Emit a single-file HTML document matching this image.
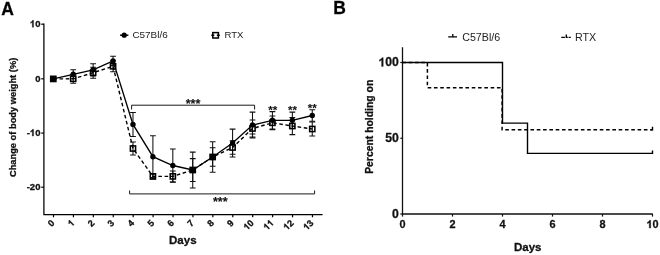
<!DOCTYPE html>
<html><head><meta charset="utf-8"><title>Figure</title>
<style>
html,body{margin:0;padding:0;background:#fff;}
body{width:660px;height:255px;overflow:hidden;font-family:"Liberation Sans",sans-serif;}
svg{display:block;font-family:"Liberation Sans",sans-serif;}
text[font-weight="bold"]{stroke:#111;stroke-width:0.3px;stroke-linejoin:round;}
</style></head><body>
<svg width="660" height="255" viewBox="0 0 660 255">
<defs><filter id="soft" x="0" y="0" width="660" height="255" filterUnits="userSpaceOnUse" color-interpolation-filters="sRGB"><feGaussianBlur stdDeviation="0.3"/></filter></defs>
<rect width="660" height="255" fill="#fff"/>
<g filter="url(#soft)">
<g id="panelA">
<path d="M43.9 23.6V214.5H322.6" fill="none" stroke="#000" stroke-width="1.25"/>
<path d="M41.2 24.2H43.9" stroke="#000" stroke-width="1.2"/>
<path d="M41.2 78.8H43.9" stroke="#000" stroke-width="1.2"/>
<path d="M41.2 133.1H43.9" stroke="#000" stroke-width="1.2"/>
<path d="M41.2 187.2H43.9" stroke="#000" stroke-width="1.2"/>
<path d="M53.50 214.5V217.3" stroke="#000" stroke-width="1.2"/>
<path d="M73.42 214.5V217.3" stroke="#000" stroke-width="1.2"/>
<path d="M93.34 214.5V217.3" stroke="#000" stroke-width="1.2"/>
<path d="M113.26 214.5V217.3" stroke="#000" stroke-width="1.2"/>
<path d="M133.18 214.5V217.3" stroke="#000" stroke-width="1.2"/>
<path d="M153.10 214.5V217.3" stroke="#000" stroke-width="1.2"/>
<path d="M173.02 214.5V217.3" stroke="#000" stroke-width="1.2"/>
<path d="M192.94 214.5V217.3" stroke="#000" stroke-width="1.2"/>
<path d="M212.86 214.5V217.3" stroke="#000" stroke-width="1.2"/>
<path d="M232.78 214.5V217.3" stroke="#000" stroke-width="1.2"/>
<path d="M252.70 214.5V217.3" stroke="#000" stroke-width="1.2"/>
<path d="M272.62 214.5V217.3" stroke="#000" stroke-width="1.2"/>
<path d="M292.54 214.5V217.3" stroke="#000" stroke-width="1.2"/>
<path d="M312.46 214.5V217.3" stroke="#000" stroke-width="1.2"/>
<path d="M73.22 69.80V78.80M70.32 69.80H76.12M70.32 78.80H76.12" fill="none" stroke="#111" stroke-width="1.05"/>
<path d="M73.22 74.40V83.20M70.32 74.40H76.12M70.32 83.20H76.12" fill="none" stroke="#111" stroke-width="1.05"/>
<path d="M93.14 63.70V75.90M90.24 63.70H96.04M90.24 75.90H96.04" fill="none" stroke="#111" stroke-width="1.05"/>
<path d="M93.14 67.20V78.20M90.24 67.20H96.04M90.24 78.20H96.04" fill="none" stroke="#111" stroke-width="1.05"/>
<path d="M113.06 56.20V65.60M110.16 56.20H115.96M110.16 65.60H115.96" fill="none" stroke="#111" stroke-width="1.05"/>
<path d="M113.06 60.80V71.80M110.16 60.80H115.96M110.16 71.80H115.96" fill="none" stroke="#111" stroke-width="1.05"/>
<path d="M132.98 112.40V136.40M130.08 112.40H135.88M130.08 136.40H135.88" fill="none" stroke="#111" stroke-width="1.05"/>
<path d="M132.98 142.00V155.00M130.08 142.00H135.88M130.08 155.00H135.88" fill="none" stroke="#111" stroke-width="1.05"/>
<path d="M152.90 135.80V177.60M150.00 135.80H155.80M150.00 177.60H155.80" fill="none" stroke="#111" stroke-width="1.05"/>
<path d="M152.90 173.90V178.90M150.00 173.90H155.80M150.00 178.90H155.80" fill="none" stroke="#111" stroke-width="1.05"/>
<path d="M172.82 148.90V182.10M169.92 148.90H175.72M169.92 182.10H175.72" fill="none" stroke="#111" stroke-width="1.05"/>
<path d="M172.82 170.90V181.90M169.92 170.90H175.72M169.92 181.90H175.72" fill="none" stroke="#111" stroke-width="1.05"/>
<path d="M192.74 152.10V187.90M189.84 152.10H195.64M189.84 187.90H195.64" fill="none" stroke="#111" stroke-width="1.05"/>
<path d="M192.74 158.60V181.40M189.84 158.60H195.64M189.84 181.40H195.64" fill="none" stroke="#111" stroke-width="1.05"/>
<path d="M212.66 141.80V172.20M209.76 141.80H215.56M209.76 172.20H215.56" fill="none" stroke="#111" stroke-width="1.05"/>
<path d="M212.66 147.80V166.20M209.76 147.80H215.56M209.76 166.20H215.56" fill="none" stroke="#111" stroke-width="1.05"/>
<path d="M232.58 129.10V156.90M229.68 129.10H235.48M229.68 156.90H235.48" fill="none" stroke="#111" stroke-width="1.05"/>
<path d="M232.58 140.80V154.20M229.68 140.80H235.48M229.68 154.20H235.48" fill="none" stroke="#111" stroke-width="1.05"/>
<path d="M252.50 112.10V137.90M249.60 112.10H255.40M249.60 137.90H255.40" fill="none" stroke="#111" stroke-width="1.05"/>
<path d="M252.50 119.90V137.10M249.60 119.90H255.40M249.60 137.10H255.40" fill="none" stroke="#111" stroke-width="1.05"/>
<path d="M272.42 111.60V129.00M269.52 111.60H275.32M269.52 129.00H275.32" fill="none" stroke="#111" stroke-width="1.05"/>
<path d="M272.42 116.00V129.60M269.52 116.00H275.32M269.52 129.60H275.32" fill="none" stroke="#111" stroke-width="1.05"/>
<path d="M292.34 112.10V128.50M289.44 112.10H295.24M289.44 128.50H295.24" fill="none" stroke="#111" stroke-width="1.05"/>
<path d="M292.34 117.40V134.60M289.44 117.40H295.24M289.44 134.60H295.24" fill="none" stroke="#111" stroke-width="1.05"/>
<path d="M312.26 109.70V121.30M309.36 109.70H315.16M309.36 121.30H315.16" fill="none" stroke="#111" stroke-width="1.05"/>
<path d="M312.26 122.00V136.00M309.36 122.00H315.16M309.36 136.00H315.16" fill="none" stroke="#111" stroke-width="1.05"/>
<path d="M249.60 134H255.40" stroke="#111" stroke-width="1.05"/>
<polyline points="53.30,78.90 73.22,78.80 93.14,72.70 113.06,66.30 132.98,148.50 152.90,176.40 172.82,176.40 192.74,170.00 212.66,157.00 232.58,147.50 252.50,128.50 272.42,122.80 292.34,126.00 312.26,129.00" fill="none" stroke="#000" stroke-width="1.4" stroke-dasharray="3.6 2.6"/>
<polyline points="53.30,78.90 73.22,74.30 93.14,69.80 113.06,60.90 132.98,124.40 152.90,156.70 172.82,165.50 192.74,170.00 212.66,157.00 232.58,143.00 252.50,125.00 272.42,120.30 292.34,120.30 312.26,115.50" fill="none" stroke="#000" stroke-width="1.35"/>
<rect x="50.70" y="76.30" width="5.2" height="5.2" fill="none" stroke="#000" stroke-width="1.55"/>
<rect x="70.62" y="76.20" width="5.2" height="5.2" fill="none" stroke="#000" stroke-width="1.55"/>
<rect x="90.54" y="70.10" width="5.2" height="5.2" fill="none" stroke="#000" stroke-width="1.55"/>
<rect x="110.46" y="63.70" width="5.2" height="5.2" fill="none" stroke="#000" stroke-width="1.55"/>
<rect x="130.38" y="145.90" width="5.2" height="5.2" fill="none" stroke="#000" stroke-width="1.55"/>
<rect x="150.30" y="173.80" width="5.2" height="5.2" fill="none" stroke="#000" stroke-width="1.55"/>
<rect x="170.22" y="173.80" width="5.2" height="5.2" fill="none" stroke="#000" stroke-width="1.55"/>
<rect x="190.14" y="167.40" width="5.2" height="5.2" fill="none" stroke="#000" stroke-width="1.55"/>
<rect x="210.06" y="154.40" width="5.2" height="5.2" fill="none" stroke="#000" stroke-width="1.55"/>
<rect x="229.98" y="144.90" width="5.2" height="5.2" fill="none" stroke="#000" stroke-width="1.55"/>
<rect x="249.90" y="125.90" width="5.2" height="5.2" fill="none" stroke="#000" stroke-width="1.55"/>
<rect x="269.82" y="120.20" width="5.2" height="5.2" fill="none" stroke="#000" stroke-width="1.55"/>
<rect x="289.74" y="123.40" width="5.2" height="5.2" fill="none" stroke="#000" stroke-width="1.55"/>
<rect x="309.66" y="126.40" width="5.2" height="5.2" fill="none" stroke="#000" stroke-width="1.55"/>
<circle cx="53.30" cy="78.90" r="2.7" fill="#000"/>
<circle cx="73.22" cy="74.30" r="2.7" fill="#000"/>
<circle cx="93.14" cy="69.80" r="2.7" fill="#000"/>
<circle cx="113.06" cy="60.90" r="2.7" fill="#000"/>
<circle cx="132.98" cy="124.40" r="2.7" fill="#000"/>
<circle cx="152.90" cy="156.70" r="2.7" fill="#000"/>
<circle cx="172.82" cy="165.50" r="2.7" fill="#000"/>
<circle cx="192.74" cy="170.00" r="2.7" fill="#000"/>
<circle cx="212.66" cy="157.00" r="2.7" fill="#000"/>
<circle cx="232.58" cy="143.00" r="2.7" fill="#000"/>
<circle cx="252.50" cy="125.00" r="2.7" fill="#000"/>
<circle cx="272.42" cy="120.30" r="2.7" fill="#000"/>
<circle cx="292.34" cy="120.30" r="2.7" fill="#000"/>
<circle cx="312.26" cy="115.50" r="2.7" fill="#000"/>
<path d="M131.6 109.5V105.2H254.6V109.5" fill="none" stroke="#1a1a1a" stroke-width="1"/>
<path d="M129.6 190.5V193.9H314.6V190.5" fill="none" stroke="#1a1a1a" stroke-width="1"/>
<text x="193" y="107.5" text-anchor="middle" font-size="12.6" font-weight="bold" fill="#111" style="stroke-width:0.12px">***</text>
<text x="220.3" y="205.7" text-anchor="middle" font-size="12.6" font-weight="bold" fill="#111" style="stroke-width:0.12px">***</text>
<text x="272.8" y="113.5" text-anchor="middle" font-size="11.5" font-weight="bold" fill="#111" style="stroke-width:0.12px">**</text>
<text x="292.5" y="114.1" text-anchor="middle" font-size="11.5" font-weight="bold" fill="#111" style="stroke-width:0.12px">**</text>
<text x="312.3" y="112.0" text-anchor="middle" font-size="11.5" font-weight="bold" fill="#111" style="stroke-width:0.12px">**</text>
<g transform="translate(40.40 27.20)"><path transform="translate(-10.56 0) scale(0.00464 -0.00464)" d="M806 0H525V1059Q371 915 162 846V1101Q272 1137 401 1237.5T578 1472H806Z" fill="#111" stroke="#111" stroke-width="64.7" stroke-linejoin="round"/><text x="-5.28" y="0" font-size="9.5" font-weight="bold" fill="#111">0</text></g>
<g transform="translate(40.40 81.50)"><text x="-5.28" y="0" font-size="9.5" font-weight="bold" fill="#111">0</text></g>
<g transform="translate(40.40 136.10)"><text x="-13.73" y="0" font-size="9.5" font-weight="bold" fill="#111">-</text><path transform="translate(-10.56 0) scale(0.00464 -0.00464)" d="M806 0H525V1059Q371 915 162 846V1101Q272 1137 401 1237.5T578 1472H806Z" fill="#111" stroke="#111" stroke-width="64.7" stroke-linejoin="round"/><text x="-5.28" y="0" font-size="9.5" font-weight="bold" fill="#111">0</text></g>
<g transform="translate(40.40 190.20)"><text x="-13.73" y="0" font-size="9.5" font-weight="bold" fill="#111">-</text><text x="-10.56" y="0" font-size="9.5" font-weight="bold" fill="#111">2</text><text x="-5.28" y="0" font-size="9.5" font-weight="bold" fill="#111">0</text></g>
<g transform="translate(55.20 223.60) rotate(-45)"><text x="-5.12" y="0" font-size="9.2" font-weight="bold" fill="#111">0</text></g>
<g transform="translate(75.12 223.60) rotate(-45)"><path transform="translate(-5.12 0) scale(0.00449 -0.00449)" d="M806 0H525V1059Q371 915 162 846V1101Q272 1137 401 1237.5T578 1472H806Z" fill="#111" stroke="#111" stroke-width="66.8" stroke-linejoin="round"/></g>
<g transform="translate(95.04 223.60) rotate(-45)"><text x="-5.12" y="0" font-size="9.2" font-weight="bold" fill="#111">2</text></g>
<g transform="translate(114.96 223.60) rotate(-45)"><text x="-5.12" y="0" font-size="9.2" font-weight="bold" fill="#111">3</text></g>
<g transform="translate(134.88 223.60) rotate(-45)"><text x="-5.12" y="0" font-size="9.2" font-weight="bold" fill="#111">4</text></g>
<g transform="translate(154.80 223.60) rotate(-45)"><text x="-5.12" y="0" font-size="9.2" font-weight="bold" fill="#111">5</text></g>
<g transform="translate(174.72 223.60) rotate(-45)"><text x="-5.12" y="0" font-size="9.2" font-weight="bold" fill="#111">6</text></g>
<g transform="translate(194.64 223.60) rotate(-45)"><text x="-5.12" y="0" font-size="9.2" font-weight="bold" fill="#111">7</text></g>
<g transform="translate(214.56 223.60) rotate(-45)"><text x="-5.12" y="0" font-size="9.2" font-weight="bold" fill="#111">8</text></g>
<g transform="translate(234.48 223.60) rotate(-45)"><text x="-5.12" y="0" font-size="9.2" font-weight="bold" fill="#111">9</text></g>
<g transform="translate(254.40 223.60) rotate(-45)"><path transform="translate(-10.23 0) scale(0.00449 -0.00449)" d="M806 0H525V1059Q371 915 162 846V1101Q272 1137 401 1237.5T578 1472H806Z" fill="#111" stroke="#111" stroke-width="66.8" stroke-linejoin="round"/><text x="-5.12" y="0" font-size="9.2" font-weight="bold" fill="#111">0</text></g>
<g transform="translate(274.32 223.60) rotate(-45)"><path transform="translate(-10.23 0) scale(0.00449 -0.00449)" d="M806 0H525V1059Q371 915 162 846V1101Q272 1137 401 1237.5T578 1472H806Z" fill="#111" stroke="#111" stroke-width="66.8" stroke-linejoin="round"/><path transform="translate(-5.12 0) scale(0.00449 -0.00449)" d="M806 0H525V1059Q371 915 162 846V1101Q272 1137 401 1237.5T578 1472H806Z" fill="#111" stroke="#111" stroke-width="66.8" stroke-linejoin="round"/></g>
<g transform="translate(294.24 223.60) rotate(-45)"><path transform="translate(-10.23 0) scale(0.00449 -0.00449)" d="M806 0H525V1059Q371 915 162 846V1101Q272 1137 401 1237.5T578 1472H806Z" fill="#111" stroke="#111" stroke-width="66.8" stroke-linejoin="round"/><text x="-5.12" y="0" font-size="9.2" font-weight="bold" fill="#111">2</text></g>
<g transform="translate(314.16 223.60) rotate(-45)"><path transform="translate(-10.23 0) scale(0.00449 -0.00449)" d="M806 0H525V1059Q371 915 162 846V1101Q272 1137 401 1237.5T578 1472H806Z" fill="#111" stroke="#111" stroke-width="66.8" stroke-linejoin="round"/><text x="-5.12" y="0" font-size="9.2" font-weight="bold" fill="#111">3</text></g>
<text x="182.8" y="244" text-anchor="middle" font-size="11.5" font-weight="bold" fill="#111">Days</text>
<text transform="translate(16.3 117.4) rotate(-90)" text-anchor="middle" font-size="9.3" font-weight="bold" fill="#111">Change of body weight (%)</text>
<text x="1.2" y="14.9" font-size="17.5" font-weight="bold" fill="#000">A</text>
<path d="M120 35.2H128.4" stroke="#000" stroke-width="1.4"/><circle cx="124.2" cy="35.2" r="2.6" fill="#000"/>
<text x="132.4" y="38.3" font-size="9.95" fill="#222">C57Bl/6</text>
<path d="M211.3 35.3H219.8" stroke="#000" stroke-width="1.4" stroke-dasharray="3 2.5"/><rect x="212.8" y="32.6" width="5.6" height="5.4" fill="none" stroke="#000" stroke-width="1.5"/>
<text x="224.4" y="38.3" font-size="9.6" fill="#222">RTX</text>
</g>
<g id="panelB">
<path d="M402.5 47.3V214H652.8" fill="none" stroke="#111" stroke-width="1.3"/>
<path d="M400.3 214.00H402.5" stroke="#111" stroke-width="1.2"/>
<path d="M400.3 138.25H402.5" stroke="#111" stroke-width="1.2"/>
<path d="M400.3 62.50H402.5" stroke="#111" stroke-width="1.2"/>
<path d="M402.50 214V216.6" stroke="#111" stroke-width="1.2"/>
<path d="M452.50 214V216.6" stroke="#111" stroke-width="1.2"/>
<path d="M502.50 214V216.6" stroke="#111" stroke-width="1.2"/>
<path d="M552.50 214V216.6" stroke="#111" stroke-width="1.2"/>
<path d="M602.50 214V216.6" stroke="#111" stroke-width="1.2"/>
<path d="M652.50 214V216.6" stroke="#111" stroke-width="1.2"/>
<path d="M402.5 62.5H427.4V87.76H502.1V129.83H652.5" fill="none" stroke="#000" stroke-width="1.5" stroke-dasharray="3.6 2.7"/>
<path d="M650.5 129.83H652.5V126.63" fill="none" stroke="#000" stroke-width="1.4"/>
<path d="M402.5 62.5H502.5V123.10H527.5V153.40H652.5V150.40" fill="none" stroke="#000" stroke-width="1.4"/>
<g transform="translate(398.80 217.90)"><text x="-6.78" y="0" font-size="12.2" font-weight="bold" fill="#111">0</text></g>
<g transform="translate(398.80 142.15)"><text x="-13.57" y="0" font-size="12.2" font-weight="bold" fill="#111">5</text><text x="-6.78" y="0" font-size="12.2" font-weight="bold" fill="#111">0</text></g>
<g transform="translate(398.80 66.40)"><path transform="translate(-20.35 0) scale(0.00596 -0.00596)" d="M806 0H525V1059Q371 915 162 846V1101Q272 1137 401 1237.5T578 1472H806Z" fill="#111" stroke="#111" stroke-width="50.4" stroke-linejoin="round"/><text x="-13.57" y="0" font-size="12.2" font-weight="bold" fill="#111">0</text><text x="-6.78" y="0" font-size="12.2" font-weight="bold" fill="#111">0</text></g>
<g transform="translate(402.50 228.10)"><text x="-3.03" y="0" font-size="10.9" font-weight="bold" fill="#111">0</text></g>
<g transform="translate(452.50 228.10)"><text x="-3.03" y="0" font-size="10.9" font-weight="bold" fill="#111">2</text></g>
<g transform="translate(502.50 228.10)"><text x="-3.03" y="0" font-size="10.9" font-weight="bold" fill="#111">4</text></g>
<g transform="translate(552.50 228.10)"><text x="-3.03" y="0" font-size="10.9" font-weight="bold" fill="#111">6</text></g>
<g transform="translate(602.50 228.10)"><text x="-3.03" y="0" font-size="10.9" font-weight="bold" fill="#111">8</text></g>
<g transform="translate(652.50 228.10)"><path transform="translate(-6.06 0) scale(0.00532 -0.00532)" d="M806 0H525V1059Q371 915 162 846V1101Q272 1137 401 1237.5T578 1472H806Z" fill="#111" stroke="#111" stroke-width="56.4" stroke-linejoin="round"/><text x="0.00" y="0" font-size="10.9" font-weight="bold" fill="#111">0</text></g>
<text x="527.7" y="250.7" text-anchor="middle" font-size="11.5" font-weight="bold" fill="#111">Days</text>
<text transform="translate(373.1 126.8) rotate(-90)" text-anchor="middle" font-size="10.4" font-weight="bold" fill="#111">Percent holding on</text>
<text x="333.2" y="14" font-size="17.5" font-weight="bold" fill="#000">B</text>
<path d="M448.2 36.9H457M452.8 36.9V33.9" fill="none" stroke="#000" stroke-width="1.3"/>
<text x="462.2" y="40.5" font-size="10.7" fill="#222">C57Bl/6</text>
<path d="M561.3 37.4H564.9M565.6 37.4H567.8M568.6 37.4H570.8M566.3 37.4V34.5" fill="none" stroke="#000" stroke-width="1.4"/>
<text x="575" y="40.9" font-size="10.7" fill="#222">RTX</text>
</g>
</g>
</svg>
</body></html>
